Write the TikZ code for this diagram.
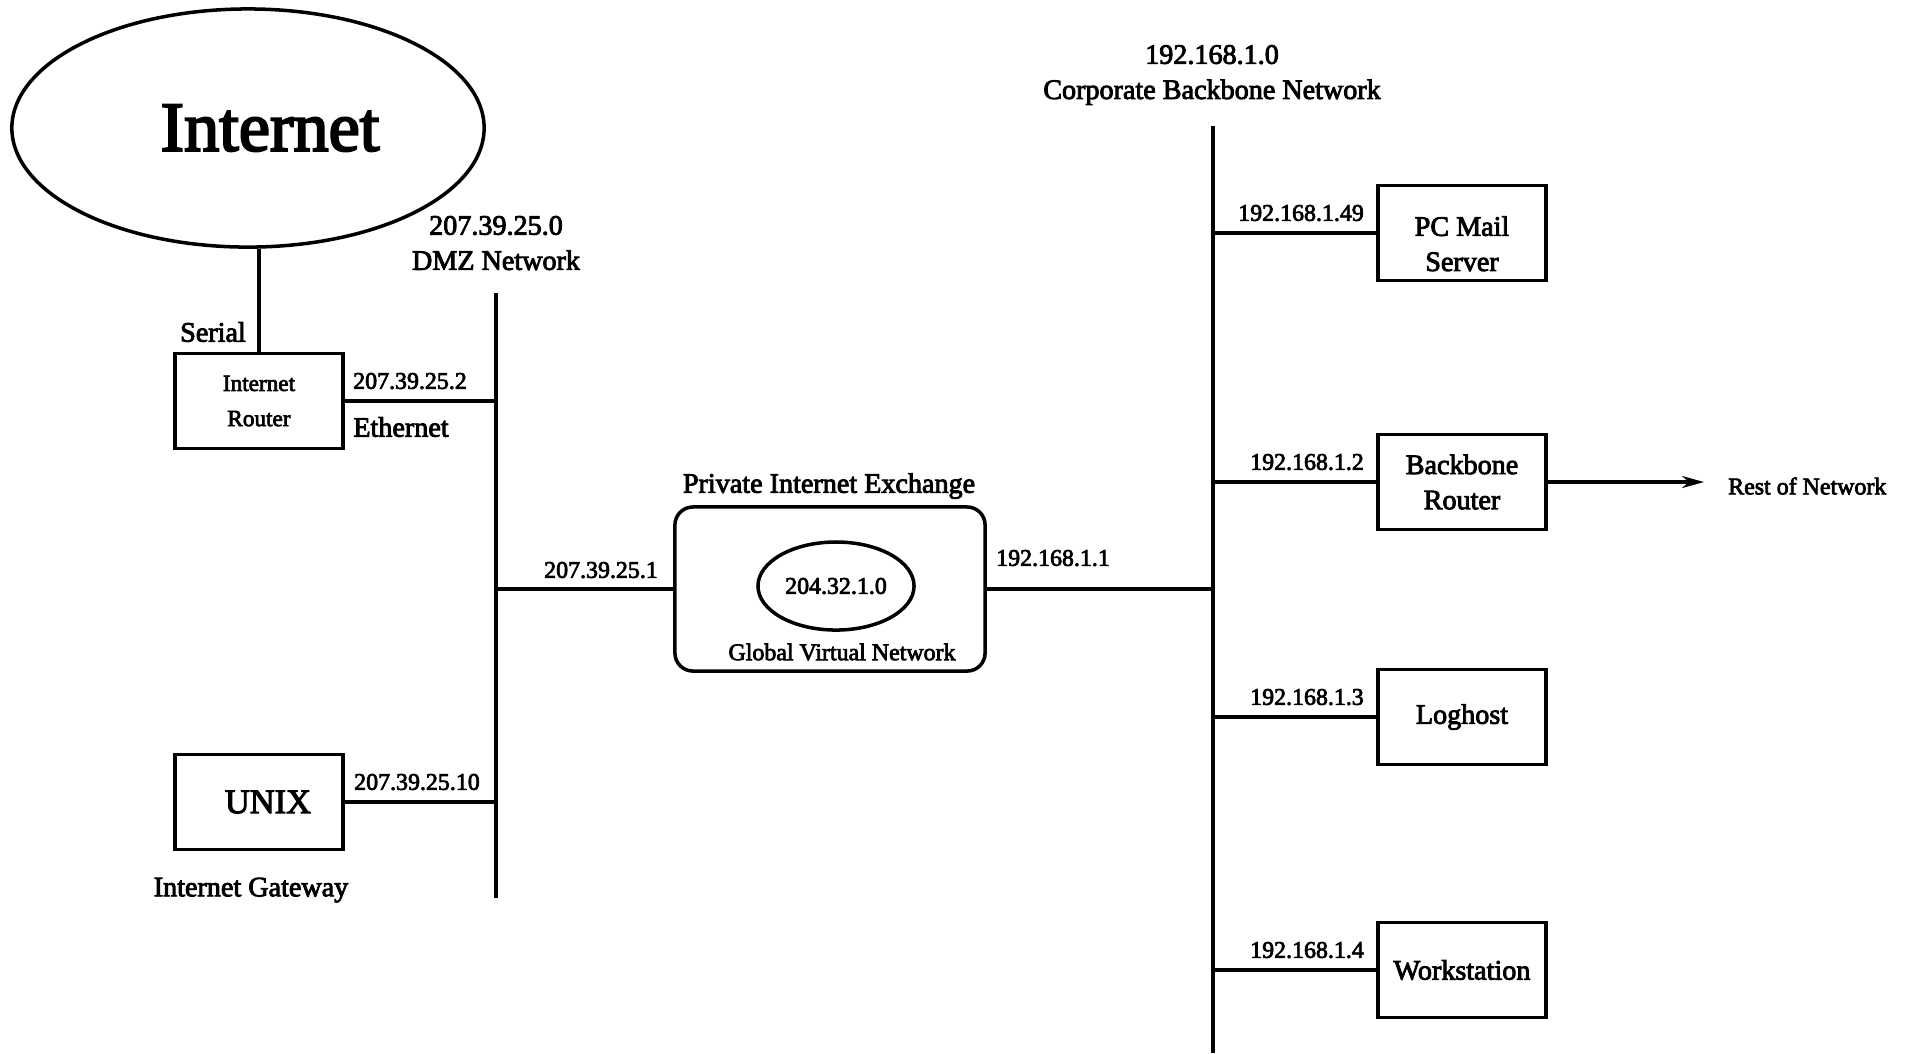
\documentclass[tikz,border=0pt]{standalone}
\usepackage{fontspec}
\setmainfont{Liberation Serif}[BoldFont={Liberation Serif},BoldFeatures={FakeBold=3}]
\usetikzlibrary{shapes.geometric,arrows.meta}

\tikzset{
  wire/.style={line width=1pt},
  hostbox/.style={draw,line width=1pt,minimum width=1.68cm,minimum height=0.95cm,
    inner sep=0pt,align=center,font=\fontsize{8}{10}\selectfont\bfseries},
  title/.style={inner sep=1pt,align=center,font=\fontsize{8}{10}\selectfont\bfseries},
  addr/.style={inner sep=1pt,align=center,font=\fontsize{6.8}{8}\selectfont\bfseries},
}

\begin{document}
\begin{tikzpicture}[x=0.01cm,y=-0.01cm]
  \useasboundingbox (0,0) rectangle (1907,1053);

  % internet side
  \node[draw,ellipse,line width=1pt,minimum width=4.72cm,minimum height=2.38cm,
    label={[xshift=0.22cm,font=\fontsize{20}{24}\selectfont\bfseries]center:Internet}] (inet) at (248,128) {};
  \node[hostbox,font=\fontsize{6.6}{10}\selectfont\bfseries] (router) at (259,401) {Internet\\Router};
  \draw[wire] (router.north) -- (router.north |- inet.south);
  \node[title] (serial) at (213,332) {Serial};

  % DMZ segment
  \coordinate (dmztop) at (496,293);
  \coordinate (dmzbot) at (496,898);
  \draw[wire] (dmztop) -- (dmzbot);
  \node[title] (dmzname) at (496,243) {207.39.25.0\\DMZ Network};
  \draw[wire] (router.east) -- (router.east -| dmztop);
  \node[addr] (rtaddr) at (410,381) {207.39.25.2};
  \node[title] (ether) at (401,427) {Ethernet};

  \node[hostbox,font=\fontsize{9.8}{12}\selectfont\bfseries] (unix) at (259,802) {\hspace{0.18cm}UNIX};
  \draw[wire] (unix.east) -- (unix.east -| dmztop);
  \node[addr] (unixaddr) at (417,782) {207.39.25.10};
  \node[title] (gateway) at (251,890) {Internet Gateway};

  % exchange
  \node[draw,line width=1pt,rounded corners=0.18cm,minimum width=3.10cm,minimum height=1.64cm] (pix) at (830,589) {};
  \node[title] (pixname) at (829,486) {Private Internet Exchange};
  \node[draw,ellipse,line width=1pt,minimum width=1.56cm,minimum height=0.88cm,addr] (gvn) at (836,586) {204.32.1.0};
  \node[addr] (gvnname) at (842,652) {Global Virtual Network};
  \draw[wire] (pix.west) -- (pix.west -| dmztop);
  \node[addr] (pixaddr) at (601,570) {207.39.25.1};

  % corporate backbone
  \coordinate (bbtop) at (1213,126);
  \coordinate (bbbot) at (1213,1053);
  \draw[wire] (bbtop) -- (bbbot);
  \node[title] (bbname) at (1212,75) {192.168.1.0\\Corporate Backbone Network};
  \draw[wire] (pix.east) -- (pix.east -| bbtop);
  \node[addr] (bbaddr) at (1053,558) {192.168.1.1};

  \foreach \name/\y/\txt/\ip in {mail/233/{\rule{0pt}{0.41cm}PC Mail\\Server}/192.168.1.49,
      bbr/482/{Backbone\\Router}/192.168.1.2,
      log/717/Loghost/192.168.1.3,
      ws/970/Workstation/192.168.1.4} {
    \node[hostbox] (\name) at (1462,\y) {\txt};
    \draw[wire] (\name.west) -- (\name.west -| bbtop);
    \node[addr,anchor=east] (\name addr) at (1368,\y-20) {\ip};
  }

  \node[addr,anchor=west] (rest) at (1724,486) {Rest of Network};
  \draw[wire,-{Stealth[length=0.22cm,width=0.12cm]},shorten >=0.2cm] (bbr.east) -- (bbr.east -| rest.west);
\end{tikzpicture}
\end{document}
